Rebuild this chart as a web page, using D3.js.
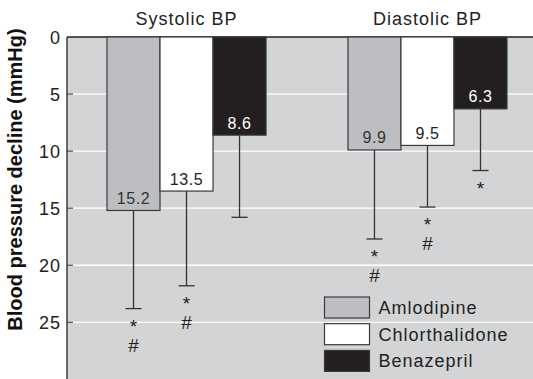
<!DOCTYPE html>
<html><head><meta charset="utf-8">
<script src="https://cdnjs.cloudflare.com/ajax/libs/d3/7.8.5/d3.min.js"></script>
<style>body{margin:0;background:#fff}svg{display:block}</style>
</head><body><svg id="c" width="533" height="379"></svg>
<script>
const groups = ["Systolic BP", "Diastolic BP"];
const drugs = ["Amlodipine", "Chlorthalidone", "Benazepril"];
const systolic = [15.2, 13.5, 8.6];
const diastolic = [9.9, 9.5, 6.3];
const systolicErr = [23.8, 21.8, 15.8];
const diastolicErr = [17.7, 14.9, 11.7];
const systolicMarks = ["*#", "*#", ""];
const diastolicMarks = ["*#", "*#", "*"];
const yTicks = [0, 5, 10, 15, 20, 25];
const colors = ["#bdbec1", "#ffffff", "#231f20"];
const labelColors = ["#333333", "#222222", "#ffffff"];

const data = [
  {group: groups[0], values: systolic, err: systolicErr, marks: systolicMarks},
  {group: groups[1], values: diastolic, err: diastolicErr, marks: diastolicMarks}
];

const svg = d3.select("#c");
const W = 533, H = 379;
const plotLeft = 67, plotTop = 37;
const FONT = "'Liberation Sans', Arial, sans-serif";

const y = d3.scaleLinear().domain([0, 25]).range([plotTop, 322.3]);
const x0 = d3.scaleBand().domain(groups).range([107, 507]).paddingInner(0.34).paddingOuter(0);
const x1 = d3.scaleBand().domain(drugs).range([0, x0.bandwidth()]);

// plot background
svg.append("rect").attr("x", plotLeft).attr("y", plotTop).attr("width", W - plotLeft).attr("height", H - plotTop).attr("fill", "#d3d4d6");

// gridlines
svg.append("g").selectAll("line").data(yTicks.filter(d => d > 0)).join("line")
  .attr("x1", plotLeft + 6).attr("x2", W).attr("y1", d => y(d)).attr("y2", d => y(d))
  .attr("stroke", "#ffffff").attr("stroke-width", 1.3);

// axis
const ax = svg.append("g").attr("transform", `translate(${plotLeft},0)`)
  .call(d3.axisLeft(y).tickValues(yTicks).tickSize(0).tickPadding(6));
ax.select(".domain").remove();
ax.selectAll("text").attr("font-family", FONT).attr("font-size", 18).attr("letter-spacing", 1).attr("fill", "#222").attr("dy", "0.36em");
svg.append("g").selectAll("line").data(yTicks.filter(d => d > 0)).join("line")
  .attr("x1", plotLeft).attr("x2", plotLeft + 6).attr("y1", d => y(d)).attr("y2", d => y(d))
  .attr("stroke", "#444").attr("stroke-width", 1);
svg.append("line").attr("x1", plotLeft).attr("x2", plotLeft).attr("y1", plotTop).attr("y2", H).attr("stroke", "#222").attr("stroke-width", 1.3);
svg.append("line").attr("x1", plotLeft).attr("x2", W).attr("y1", plotTop).attr("y2", plotTop).attr("stroke", "#222").attr("stroke-width", 1.3);

// group titles
svg.append("g").selectAll("text").data(groups).join("text")
  .attr("x", d => x0(d) + x0.bandwidth() / 2).attr("y", 25)
  .attr("text-anchor", "middle").attr("font-family", FONT).attr("font-size", 18).attr("letter-spacing", 1)
  .attr("fill", "#222").text(d => d);

// y title
svg.append("text").attr("transform", "translate(21.5,179.5) rotate(-90)")
  .attr("text-anchor", "middle").attr("font-family", FONT).attr("font-size", 20).attr("font-weight", "bold")
  .attr("fill", "#111").text("Blood pressure decline (mmHg)");

// bars
const g = svg.append("g").selectAll("g").data(data).join("g")
  .attr("transform", d => `translate(${x0(d.group)},0)`);

const items = g.selectAll("g.item").data(d => drugs.map((k, i) => ({k, i, v: d.values[i], e: d.err[i], m: d.marks[i]})))
  .join("g").attr("class", "item");

// error bars
items.append("line")
  .attr("x1", d => x1(d.k) + x1.bandwidth() / 2).attr("x2", d => x1(d.k) + x1.bandwidth() / 2)
  .attr("y1", d => y(d.v)).attr("y2", d => y(d.e)).attr("stroke", "#333").attr("stroke-width", 1.3);
items.append("line")
  .attr("x1", d => x1(d.k) + x1.bandwidth() / 2 - 8).attr("x2", d => x1(d.k) + x1.bandwidth() / 2 + 8)
  .attr("y1", d => y(d.e)).attr("y2", d => y(d.e)).attr("stroke", "#333").attr("stroke-width", 1.3);

items.append("rect")
  .attr("x", d => x1(d.k)).attr("width", x1.bandwidth())
  .attr("y", y(0)).attr("height", d => y(d.v) - y(0))
  .attr("fill", d => colors[d.i]).attr("stroke", "#3a3a3a").attr("stroke-width", 1.2);

items.append("text")
  .attr("x", d => x1(d.k) + x1.bandwidth() / 2).attr("y", d => y(d.v) - 6.5)
  .attr("text-anchor", "middle").attr("font-family", FONT).attr("font-size", 16).attr("letter-spacing", 0.6)
  .attr("fill", d => labelColors[d.i]).text(d => d.v.toFixed(1));

// significance marks
items.filter(d => d.m.includes("*")).append("text")
  .attr("x", d => x1(d.k) + x1.bandwidth() / 2).attr("y", d => y(d.e) + 24)
  .attr("text-anchor", "middle").attr("font-family", FONT).attr("font-size", 19).attr("fill", "#222").text("*");
items.filter(d => d.m.includes("#")).append("text")
  .attr("x", d => x1(d.k) + x1.bandwidth() / 2).attr("y", d => y(d.e) + 43)
  .attr("text-anchor", "middle").attr("font-family", FONT).attr("font-size", 19).attr("fill", "#222").text("#");

// legend
const lg = svg.append("g").selectAll("g").data(drugs).join("g")
  .attr("transform", (d, i) => `translate(324.5,${297 + i * 26.7})`);
lg.append("rect").attr("width", 45).attr("height", 21)
  .attr("fill", (d, i) => colors[i]).attr("stroke", "#3a3a3a").attr("stroke-width", 1.2);
lg.append("text").attr("x", 54).attr("y", 10.5).attr("dy", "0.36em")
  .attr("font-family", FONT).attr("font-size", 18).attr("letter-spacing", 1).attr("fill", "#222").text(d => d);
</script></body></html>
